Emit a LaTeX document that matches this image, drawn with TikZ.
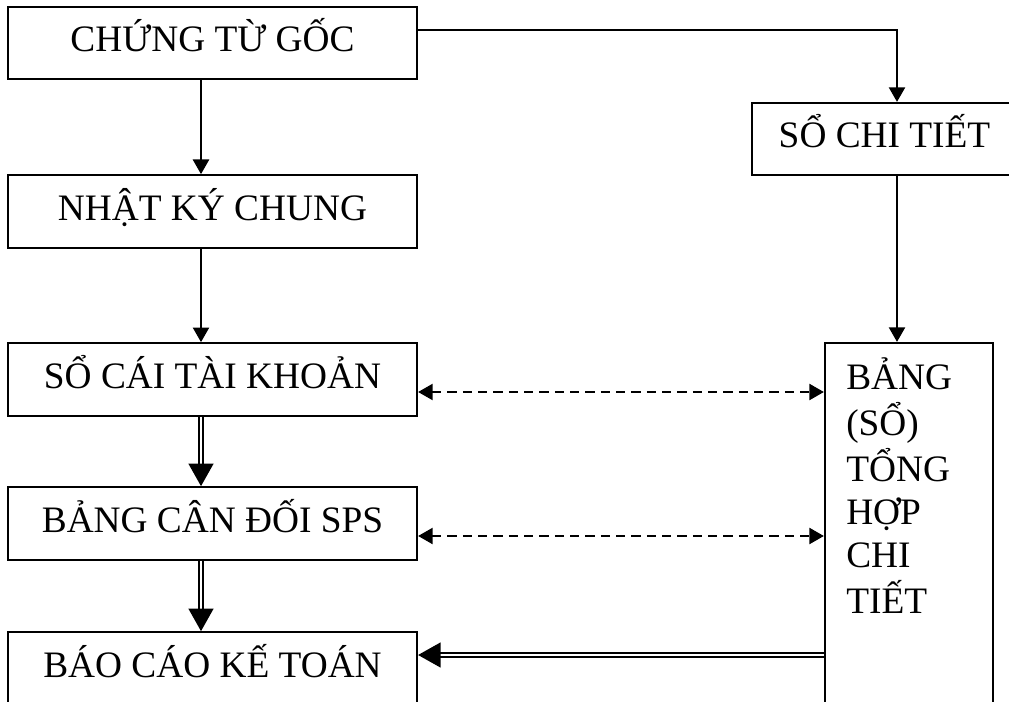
\documentclass[tikz,border=0pt]{standalone}
\usepackage{fontspec}
\setmainfont{Liberation Serif}
\usetikzlibrary{arrows.meta,calc}
\begin{document}
\begin{tikzpicture}[x=0.75pt,y=-0.75pt,
  txt/.style={font=\fontsize{28}{32.4}\selectfont},
  box/.style={txt, draw, line width=1.6pt, minimum width=306.75pt,
    minimum height=54.4pt, inner sep=0pt, text height=20pt, text depth=6.5pt},
  flow/.style={line width=1.9pt, -{Triangle[width=12pt,length=11pt]}},
  link/.style={line width=1.9pt, dash pattern=on 7pt off 4.5pt,
    {Triangle[width=12pt,length=11pt]}-{Triangle[width=12pt,length=11pt]}},
  total/.style={double, double distance=1.6pt, line width=1.3pt,
    -{Triangle[width=18.75pt,length=17pt]}}]
\useasboundingbox (0,0) rectangle (1009,702);

% left column
\node[box] (g)  at (212.5,43)    {CHỨNG TỪ GỐC};
\node[box] (nk) at (212.5,211.5) {NHẬT KÝ CHUNG};
\node[box] (sc) at (212.5,379.5) {SỔ CÁI TÀI KHOẢN};
\node[box] (cd) at (212.5,523.5) {BẢNG CÂN ĐỐI SPS};
\node[box] (bc) at (212.5,668.5) {BÁO CÁO KẾ TOÁN};

% right column
\node[box, minimum width=198.75pt, minimum height=54pt] (sct) at (884.5,139) {SỔ CHI TIẾT};
\node[draw, line width=1.6pt, minimum width=126pt, minimum height=312.75pt,
  inner sep=0pt] (bang) at (909,551.5) {};
\node[txt, anchor=base west, inner sep=0pt] (bangtxt) at (846,389)
  {\begin{tabular}[t]{@{}l@{}}BẢNG\\(SỔ)\\TỔNG\\HỢP\\CHI\\TIẾT\end{tabular}};

% routing guides
\coordinate (spine) at (201,0);
\coordinate (rx) at (897,30);
\coordinate (d1) at (0,392);
\coordinate (d2) at (0,536);
\coordinate (hy) at (0,655);

% connectors
\draw[flow] (g.south -| spine) -- (nk.north -| spine);
\draw[flow] (nk.south -| spine) -- (sc.north -| spine);
\draw[total] (sc.south -| spine) -- (cd.north -| spine);
\draw[total] (cd.south -| spine) -- (bc.north -| spine);
\draw[flow] (g.east |- rx) -| (sct.north -| rx);
\draw[flow] (sct.south -| rx) -- (bang.north -| rx);
\draw[link] (sc.east |- d1) -- (bang.west |- d1);
\draw[link] (cd.east |- d2) -- (bang.west |- d2);
\draw[total] (bang.west |- hy) -- (bc.east |- hy);
\end{tikzpicture}
\end{document}
